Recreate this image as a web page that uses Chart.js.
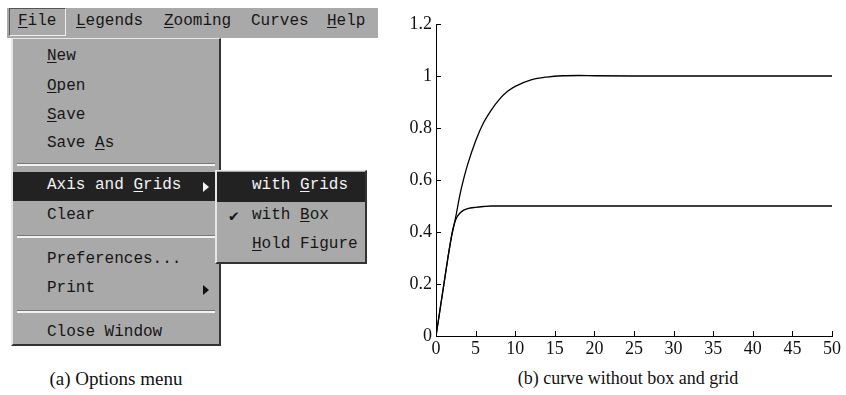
<!DOCTYPE html>
<html lang="en">
<head>
<meta charset="UTF-8">
<title>Options menu and curve</title>
<script src="https://cdn.jsdelivr.net/npm/chart.js"></script>
<style>
  body { margin: 0; width: 846px; height: 395px; background: #fff; position: relative; overflow: hidden; }
  .mono { font-family: "Liberation Mono", "DejaVu Sans Mono", monospace; font-size: 16px; color: #161616; white-space: pre; }
  .bar { position: absolute; left: 7px; top: 8px; width: 371px; height: 30px; background: #a9a9a9; }
  .bar .file { position: absolute; left: 2px; top: 0; width: 55px; height: 26px; border-top: 1px solid #555; border-left: 1px solid #555; border-right: 1px solid #eee; border-bottom: 1px solid #eee; }
  .bar span.t { position: absolute; top: 4px; }
  .drop { position: absolute; left: 11px; top: 38px; width: 206px; height: 305px; background: #a9a9a9;
          border-left: 2px solid #e6e6e6; border-top: 1px solid #e6e6e6; border-right: 2px solid #333; border-bottom: 2px solid #333; }
  .item { position: absolute; left: 34px; }
  .sep { position: absolute; left: 4px; width: 198px; height: 1px; background: #777; border-bottom: 2px solid #f2f2f2; }
  .hl { position: absolute; background: #222; }
  .sub { position: absolute; left: 215px; top: 170px; width: 148px; height: 91px; background: #a9a9a9;
         border-left: 2px solid #e6e6e6; border-top: 1px solid #e6e6e6; border-right: 2px solid #333; border-bottom: 2px solid #333; }
  .arrow { position: absolute; width: 0; height: 0; border-top: 5px solid transparent; border-bottom: 5px solid transparent; border-left: 6px solid #111; }
  u { text-decoration: underline; text-underline-offset: 2px; }
  .cap { position: absolute; top: 368px; font-family: "Liberation Serif", "Times New Roman", serif; color: #111; white-space: nowrap; transform: translateX(-50%); }
  #chartBox { position: absolute; left: 390px; top: 0; width: 456px; height: 360px; }
</style>
</head>
<body>
  <!-- (a) menu screenshot -->
  <div class="bar mono">
    <div class="file"></div>
    <span class="t" style="left:11px"><u>F</u>ile</span>
    <span class="t" style="left:69px"><u>L</u>egends</span>
    <span class="t" style="left:157px"><u>Z</u>ooming</span>
    <span class="t" style="left:244px">Curves</span>
    <span class="t" style="left:320px"><u>H</u>elp</span>
  </div>

  <div class="drop mono">
    <span class="item" style="top:8px"><u>N</u>ew</span>
    <span class="item" style="top:38px"><u>O</u>pen</span>
    <span class="item" style="top:67px"><u>S</u>ave</span>
    <span class="item" style="top:95px">Save <u>A</u>s</span>
    <div class="sep" style="top:124px"></div>
    <div class="hl" style="left:0; top:133px; width:202px; height:29px"></div>
    <span class="item" style="top:137px; color:#f2f2f2">Axis and <u>G</u>rids</span>
    <div class="arrow" style="left:190px; top:143px; border-left-color:#f2f2f2"></div>
    <span class="item" style="top:167px">Clear</span>
    <div class="sep" style="top:196px"></div>
    <span class="item" style="top:211px">Preferences...</span>
    <span class="item" style="top:240px">Print</span>
    <div class="arrow" style="left:190px; top:246px"></div>
    <div class="sep" style="top:271px"></div>
    <span class="item" style="top:284px">Close Window</span>
  </div>

  <div class="sub mono">
    <div class="hl" style="left:0; top:1px; width:148px; height:30px"></div>
    <span class="item" style="left:35px; top:5px; color:#f2f2f2">with <u>G</u>rids</span>
    <span class="item" style="left:12px; top:35px">&#10004;</span>
    <span class="item" style="left:35px; top:35px">with <u>B</u>ox</span>
    <span class="item" style="left:35px; top:64px"><u>H</u>old Figure</span>
  </div>

  <div class="cap" style="left:116px; font-size:19px">(a) Options menu</div>
  <div class="cap" style="left:628px; font-size:18px">(b) curve without box and grid</div>

  <!-- (b) chart -->
  <div id="chartBox"><canvas id="curveChart"></canvas></div>

<script>
// data
const tValues = [0, 0.5, 1, 1.5, 2, 2.3, 2.6, 3, 3.5, 4, 5, 6, 7, 8, 9, 10, 12, 14, 16, 18, 20, 25, 30, 35, 40, 45, 50];
const curveOne = [0, 0.1, 0.2, 0.3, 0.39, 0.43, 0.475, 0.54, 0.605, 0.66, 0.75, 0.82, 0.87, 0.91, 0.94, 0.96, 0.985, 0.996, 1.001, 1.002, 1.001, 1.0, 1.0, 1.0, 1.0, 1.0, 1.0];
const curveTwo = [0, 0.1, 0.2, 0.3, 0.39, 0.43, 0.455, 0.472, 0.484, 0.49, 0.495, 0.498, 0.5, 0.5, 0.5, 0.5, 0.5, 0.5, 0.5, 0.5, 0.5, 0.5, 0.5, 0.5, 0.5, 0.5, 0.5];
const xTicks = [0, 5, 10, 15, 20, 25, 30, 35, 40, 45, 50];
const yTicks = [0, 0.2, 0.4, 0.6, 0.8, 1, 1.2];

const pts = arr => tValues.map((t, i) => ({ x: t, y: arr[i] }));
const tickFont = { family: '"Liberation Serif", "Times New Roman", serif', size: 18 };

// short ticks pointing into the plot, like the original
const innerTicks = {
    id: 'innerTicks',
    afterDraw(chart) {
        const ctx = chart.ctx, xs = chart.scales.x, ys = chart.scales.y;
        ctx.save();
        ctx.strokeStyle = '#000';
        ctx.lineWidth = 1;
        ctx.beginPath();
        xTicks.forEach(v => {
            const px = Math.round(xs.getPixelForValue(v)) + 0.5;
            ctx.moveTo(px, ys.bottom);
            ctx.lineTo(px, ys.bottom - 5);
        });
        yTicks.forEach(v => {
            const py = Math.round(ys.getPixelForValue(v)) + 0.5;
            ctx.moveTo(xs.left, py);
            ctx.lineTo(xs.left + 5, py);
        });
        ctx.stroke();
        ctx.restore();
    }
};

new Chart(document.getElementById('curveChart'), {
    type: 'line',
    data: {
        datasets: [
            { data: pts(curveOne), borderColor: '#000', borderWidth: 1.3, pointRadius: 0, cubicInterpolationMode: 'monotone', fill: false },
            { data: pts(curveTwo), borderColor: '#000', borderWidth: 1.3, pointRadius: 0, cubicInterpolationMode: 'monotone', fill: false }
        ]
    },
    options: {
        responsive: true,
        maintainAspectRatio: false,
        animation: false,
        events: [],
        layout: { padding: { top: 24, right: 14, left: 0, bottom: 0 } },
        plugins: { legend: { display: false }, tooltip: { enabled: false } },
        scales: {
            x: {
                type: 'linear', min: 0, max: 50,
                afterBuildTicks: s => { s.ticks = xTicks.map(v => ({ value: v })); },
                afterFit: s => { s.height = 24; },
                grid: { display: false, drawTicks: false },
                border: { color: '#000', width: 1 },
                ticks: { color: '#111', font: tickFont, padding: 2, maxRotation: 0 }
            },
            y: {
                type: 'linear', min: 0, max: 1.2,
                afterBuildTicks: s => { s.ticks = yTicks.map(v => ({ value: v })); },
                afterFit: s => { s.width = 46; },
                grid: { display: false, drawTicks: false },
                border: { color: '#000', width: 1 },
                ticks: { color: '#111', font: tickFont, padding: 4, callback: v => String(+v.toFixed(1)) }
            }
        }
    },
    plugins: [innerTicks]
});
</script>
</body>
</html>
